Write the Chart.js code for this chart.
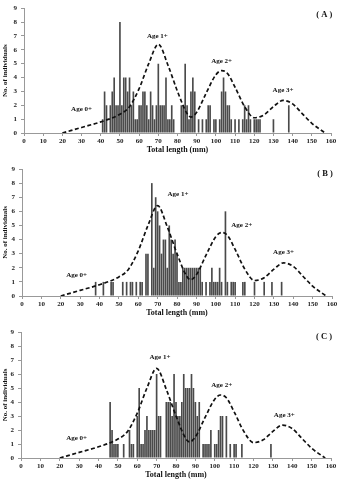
<!DOCTYPE html>
<html>
<head>
<meta charset="utf-8">
<script src="https://cdn.jsdelivr.net/npm/chart.js@4/dist/chart.umd.min.js"></script>
<style>
  body { margin:0; background:#fff; }
  .panel { position:relative; width:341px; height:160px; }
</style>
</head>
<body>
<div class="panel"><canvas id="chartA"></canvas></div>
<div class="panel"><canvas id="chartB"></canvas></div>
<div class="panel"><canvas id="chartC"></canvas></div>
<script>
// ---- data ----
const lengthsA = [41,42,43,45,46,47,48,49,50,51,52,53,54,55,56,57,58,59,60,61,62,63,64,65,66,67,68,69,70,71,72,73,74,75,76,77,78,82,83,84,85,86,87,88,89,91,93,95,96,97,99,100,102,103,104,105,106,107,108,110,112,114,115,116,117,118,120,121,122,123,130,138];
const countsA  = [1,3,2,2,3,4,2,2,8,2,4,4,3,4,2,3,1,1,2,2,3,3,2,1,3,2,1,2,5,2,2,2,4,1,1,2,1,2,2,5,2,1,3,4,3,1,1,1,2,2,1,1,1,3,4,3,2,2,1,1,1,1,2,1,2,1,1,1,1,1,1,2];

const lengthsB = [38,42,46,47,52,54,56,57,59,61,62,64,65,67,68,69,70,71,72,73,74,75,76,77,78,79,80,81,82,83,84,85,86,87,88,89,90,91,92,93,95,97,98,99,100,101,102,103,105,106,108,109,110,114,115,120,125,129,134];
const countsB  = [1,1,1,1,1,1,1,1,1,1,1,3,3,8,2,7,6,5,3,4,4,2,5,4,3,4,3,1,1,2,2,2,2,2,2,2,2,2,2,1,1,1,2,1,1,1,2,1,6,1,1,1,1,1,1,1,1,1,1];

const lengthsC = [46,47,48,49,50,53,56,57,58,60,61,62,63,64,65,66,67,68,69,70,71,72,75,76,77,78,79,80,81,82,83,84,85,86,87,88,89,90,91,92,94,95,96,97,98,100,101,102,103,104,106,108,110,111,114,129];
const countsC  = [4,2,1,1,1,1,2,1,1,3,5,1,1,2,3,2,2,2,2,6,3,3,4,4,4,3,6,4,3,3,4,6,5,5,5,6,5,4,3,4,1,1,1,1,2,1,1,2,3,3,3,1,1,1,1,1];

// fitted age-class curve (same in every panel)
const curveX = [20,30,40,50,55,60,65,70,75,80,85,87,90,95,100,103,106,110,115,120,125,130,135,140,145,150,157];
const curveY = [0,0.4,0.8,1.35,1.9,3.2,5.0,6.4,4.9,3.0,1.4,1.15,1.5,2.9,4.2,4.5,4.3,3.3,1.9,1.1,1.3,1.9,2.35,2.1,1.4,0.7,0];

const ageLabels = ['Age 0+','Age 1+','Age 2+','Age 3+'];

// label anchors per panel, in axis units
const notesA = { tag:'( A )', at:[[30,1.75],[69.5,7.0],[103,5.2],[135,3.1]], tagAt:[156.5,8.55] };
const notesB = { tag:'( B )', at:[[28.2,1.5],[80.5,7.2],[113.4,5.0],[135,3.1]], tagAt:[156.4,8.65] };
const notesC = { tag:'( C )', at:[[28.7,1.4],[71.7,7.2],[103.6,5.2],[135.9,3.07]], tagAt:[156.4,8.66] };

const SERIF = '"Liberation Serif", "DejaVu Serif", serif';

const notePlugin = {
  id: 'notes',
  afterDatasetsDraw(chart, args, opts) {
    const { ctx, scales:{ x, y } } = chart;
    ctx.save();
    ctx.fillStyle = '#111';
    ctx.textAlign = 'center';
    ctx.textBaseline = 'middle';
    ctx.font = 'bold 7px ' + SERIF;
    opts.at.forEach((p, i) => ctx.fillText(ageLabels[i], x.getPixelForValue(p[0]), y.getPixelForValue(p[1])));
    ctx.font = 'bold 8.5px ' + SERIF;
    ctx.fillText(opts.tag, x.getPixelForValue(opts.tagAt[0]), y.getPixelForValue(opts.tagAt[1]));
    ctx.restore();
  }
};

function makeChart(id, lengths, counts, notes, box) {
  const bars = lengths.map((l, i) => ({ x:l, y:counts[i] }));
  const curve = curveX.map((v, i) => ({ x:v, y:curveY[i] }));
  return new Chart(document.getElementById(id), {
    type: 'bar',
    data: {
      datasets: [
        { type:'line', data:curve, borderColor:'#111', borderWidth:1.7, borderDash:[4,2.5],
          pointRadius:0, fill:false, cubicInterpolationMode:'monotone', order:0 },
        { data:bars, backgroundColor:'#4a4a4a', barPercentage:0.86, categoryPercentage:1, order:1 }
      ]
    },
    options: {
      responsive:true, maintainAspectRatio:false, animation:false,
      layout:{ padding:{ left:0, right:box.right, top:box.top, bottom:0 } },
      plugins:{ legend:{ display:false }, tooltip:{ enabled:false }, notes },
      scales:{
        x:{
          type:'linear', min:0, max:160, offset:false,
          afterFit: s => { s.height = box.xh; },
          ticks:{ stepSize:10, color:'#222', font:{ family:SERIF, size:7, weight:'bold' }, padding:1, maxRotation:0 },
          grid:{ display:true, drawOnChartArea:false, offset:false, tickLength:3, color:'#999' },
          border:{ color:'#999' },
          title:{ display:true, text:'Total length (mm)', color:'#111', font:{ family:SERIF, size:8, weight:'bold' }, padding:{ top:0, bottom:box.tb } }
        },
        y:{
          min:0, max:9,
          afterFit: s => { s.width = box.left; },
          ticks:{ stepSize:1, color:'#222', font:{ family:SERIF, size:7, weight:'bold' }, padding:4 },
          grid:{ display:true, drawOnChartArea:false, tickLength:3, color:'#999' },
          border:{ color:'#999' },
          title:{ display:true, text:'No. of individuals', color:'#111', font:{ family:SERIF, size:7, weight:'bold' }, padding:{ top:1, bottom:0 } }
        }
      }
    },
    plugins:[notePlugin]
  });
}

makeChart('chartA', lengthsA, countsA, notesA, { left:24, right:10, top:6,  xh:27, tb:5 });
makeChart('chartB', lengthsB, countsB, notesB, { left:22, right:9,  top:9,  xh:24, tb:2 });
makeChart('chartC', lengthsC, countsC, notesC, { left:21, right:10, top:12, xh:22, tb:0 });
</script>
</body>
</html>
